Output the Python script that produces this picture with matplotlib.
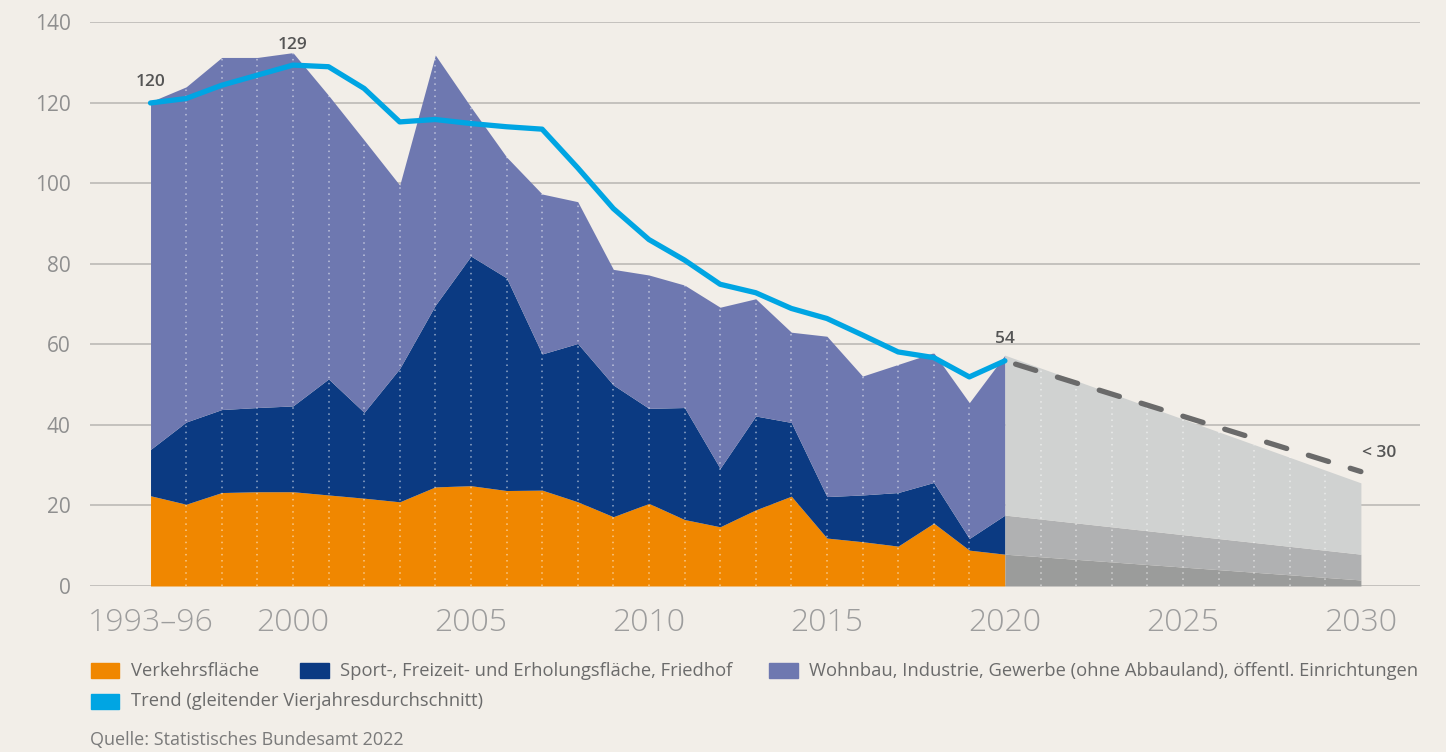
import numpy as np
import matplotlib
matplotlib.use("Agg")
import matplotlib.pyplot as plt
from matplotlib.patches import Rectangle

plt.rcParams['font.family'] = ['Open Sans', 'DejaVu Sans']

# data (ha per day)
years = list(range(1996, 2021))
verkehr = [22.4, 20.3, 23.2, 23.4, 23.4, 22.6, 21.8, 20.9, 24.6, 24.9, 23.7, 23.8, 20.9,
           17.2, 20.5, 16.5, 14.7, 18.9, 22.3, 11.9, 11.0, 9.9, 15.6, 8.9, 7.9]
sport = [11.5, 20.4, 20.6, 20.9, 21.3, 28.8, 21.3, 33.1, 45.1, 57.0, 52.8, 33.8, 39.3,
         32.7, 23.6, 27.8, 14.5, 23.3, 18.3, 10.3, 11.6, 13.3, 10.1, 2.9, 9.7]
wohnbau = [86.3, 83.2, 87.4, 86.9, 87.7, 70.4, 67.6, 45.5, 62.1, 37.0, 30.0, 39.7, 35.2,
           28.7, 33.1, 30.4, 40.0, 29.1, 22.4, 39.8, 29.5, 31.8, 32.2, 33.7, 39.7]
trend = [119.9, 121.0, 124.3, 126.8, 129.3, 128.9, 123.5, 115.2, 115.8, 114.8, 114.0, 113.4,
         103.8, 93.7, 86.0, 80.9, 74.9, 72.8, 68.9, 66.4, 62.3, 58.1, 56.7, 51.9, 55.9]

proj_years = [2020, 2030]
proj_verkehr = [7.9, 1.5]
proj_sport = [9.7, 6.4]
proj_wohnbau = [39.7, 17.7]
target_years = [2020, 2030]
target_vals = [55.9, 28.4]

xtick_pos = [1996, 2000, 2005, 2010, 2015, 2020, 2025, 2030]
xtick_labels = ['1993–96', '2000', '2005', '2010', '2015', '2020', '2025', '2030']

legend_labels = ['Verkehrsfläche', 'Sport-, Freizeit- und Erholungsfläche, Friedhof',
                 'Wohnbau, Industrie, Gewerbe (ohne Abbauland), öffentl. Einrichtungen',
                 'Trend (gleitender Vierjahresdurchschnitt)']

bg = '#f2eee8'
c_orange = '#f08700'
c_dblue = '#0b3a82'
c_purple = '#6e78b0'
c_trend = '#00a5e3'
c_grays = ['#9b9c9b', '#b0b1b2', '#d0d2d1']

fig = plt.figure(figsize=(14.46, 7.52), dpi=100, facecolor=bg)
ax = fig.add_axes([90 / 1446, 166 / 752, 1330 / 1446, 564 / 752])
ax.set_facecolor(bg)

x = np.array(years)
l1 = np.array(verkehr)
l2 = l1 + np.array(sport)
l3 = l2 + np.array(wohnbau)
ax.fill_between(x, 0, l1, color=c_orange, lw=0, zorder=2)
ax.fill_between(x, l1, l2, color=c_dblue, lw=0, zorder=2)
ax.fill_between(x, l2, l3, color=c_purple, lw=0, zorder=2)

px = np.array(proj_years)
p1 = np.array(proj_verkehr)
p2 = p1 + np.array(proj_sport)
p3 = p2 + np.array(proj_wohnbau)
ax.fill_between(px, 0, p1, color=c_grays[0], lw=0, zorder=2)
ax.fill_between(px, p1, p2, color=c_grays[1], lw=0, zorder=2)
ax.fill_between(px, p2, p3, color=c_grays[2], lw=0, zorder=2)

# white dotted year lines inside the areas
for yr in range(1997, 2030):
    if yr == 2020:
        continue
    top = np.interp(yr, x, l3) if yr < 2020 else np.interp(yr, px, p3)
    ax.plot([yr, yr], [0, top], color='white', alpha=0.55, lw=1.1,
            ls=(0, (1, 3)), zorder=3)

ax.plot(x, trend, color=c_trend, lw=3.8, solid_capstyle='round', zorder=5)
ax.plot([target_years[0] + 0.3, target_years[1]],
        [np.interp(target_years[0] + 0.3, target_years, target_vals), target_vals[1]],
        color='#6a6a6a', lw=3.8, ls=(0, (4, 4.3)), dash_capstyle='round', zorder=5)

lab_kw = dict(fontsize=12.5, color='#555555', fontweight='semibold', ha='center')
ax.text(1996, 124, '120', **lab_kw)
ax.text(2000, 133.2, '129', **lab_kw)
ax.text(2020, 60.2, '54', **lab_kw)
ax.text(2030.5, 32, '< 30', **lab_kw)

ax.set_xlim(1994.3, 2031.66)
ax.set_ylim(0, 140)
ax.set_yticks(range(0, 141, 20))
ax.set_xticks(xtick_pos)
ax.set_xticklabels(xtick_labels)
ax.grid(axis='y', color='#bcbab6', lw=1.2)
ax.set_axisbelow(True)
for s in ax.spines.values():
    s.set_visible(False)
ax.tick_params(axis='x', length=0, pad=15, labelsize=23, labelcolor='#9d9d9d')
ax.tick_params(axis='y', length=0, pad=14, labelsize=15, labelcolor='#8f8f8f')
for t in ax.get_xticklabels():
    t.set_fontweight('light')

# legend drawn by hand
def legend_item(xp, yp, color, text):
    fig.patches.append(Rectangle((xp / 1446, 1 - (yp + 7.5) / 752), 28.5 / 1446, 15 / 752,
                                 color=color, transform=fig.transFigure, figure=fig))
    fig.text((xp + 40) / 1446, 1 - yp / 752, text, fontsize=13.2, color='#6b6b6b',
             va='center', ha='left')

legend_item(90.7, 670.5, c_orange, legend_labels[0])
legend_item(300, 670.5, c_dblue, legend_labels[1])
legend_item(769, 670.5, c_purple, legend_labels[2])
legend_item(90.7, 701, c_trend, legend_labels[3])
fig.text(90 / 1446, 1 - 740 / 752, 'Quelle: Statistisches Bundesamt 2022', fontsize=13,
         color='#7a7a7a', va='center', ha='left')

fig.savefig('out.png', dpi=100, facecolor=bg)
